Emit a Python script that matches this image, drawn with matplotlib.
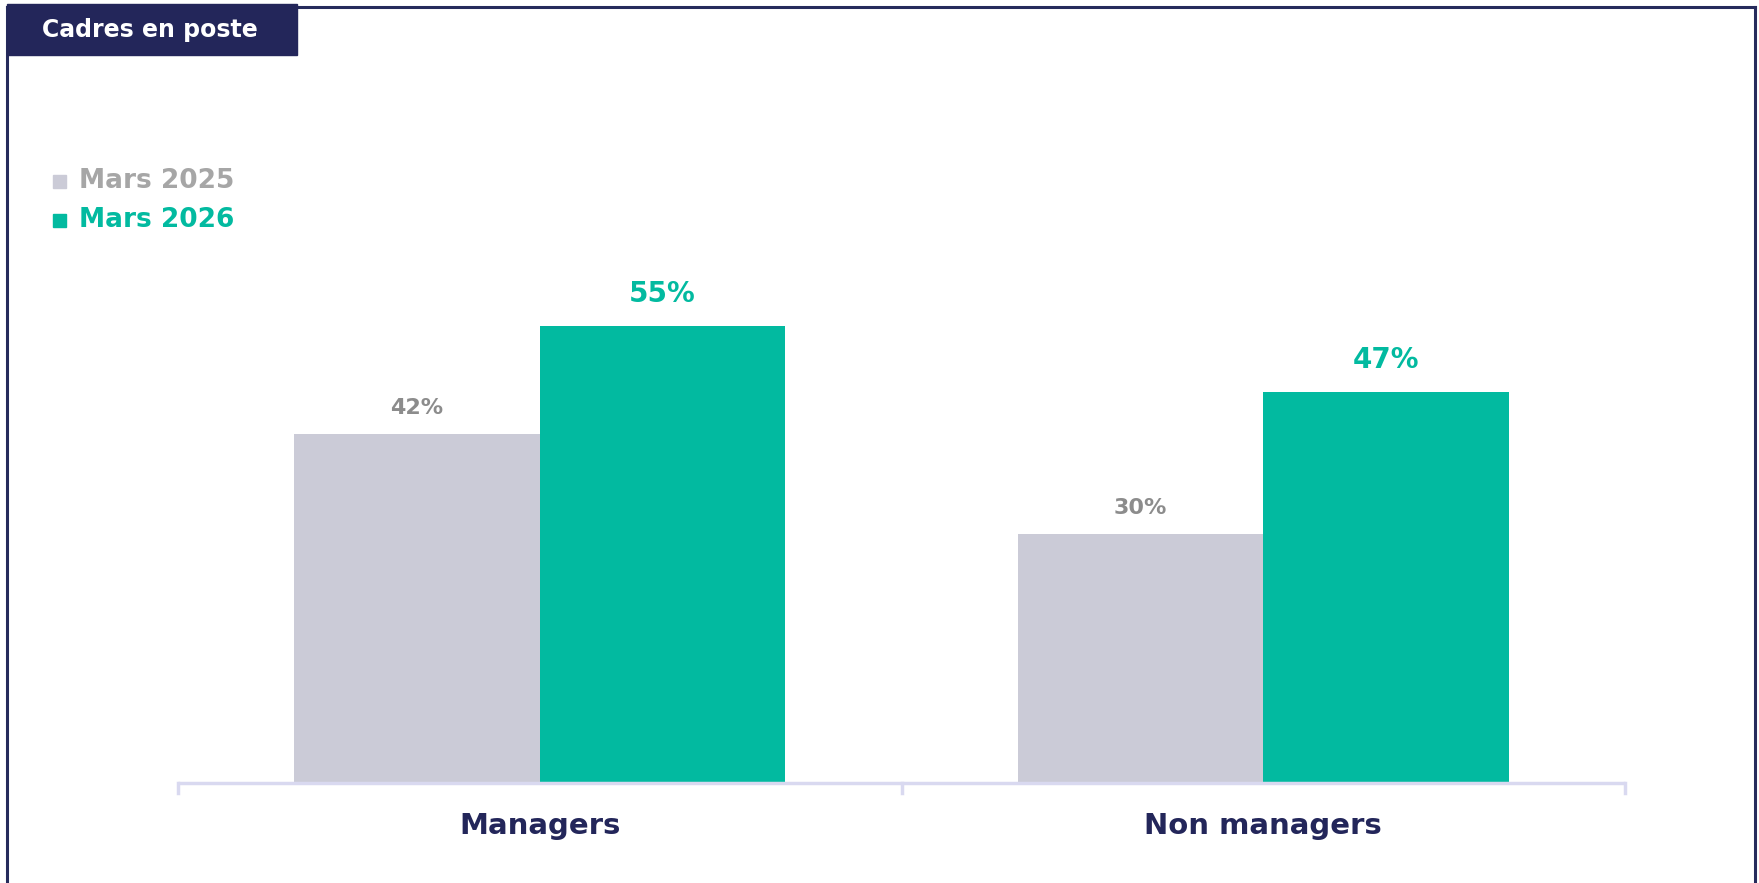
import matplotlib.pyplot as plt
import numpy as np
from matplotlib.patches import Rectangle
from matplotlib.lines import Line2D

categories = ['Managers', 'Non managers']
series_names = ['Mars 2025', 'Mars 2026']
mars_2025 = [42, 30]
mars_2026 = [55, 47]
title = 'Cadres en poste'

NAVY = '#23265A'
GREY_BAR = '#CBCBD7'
GREY_TXT = '#8C8C8C'
GREY_LEG = '#A6A6A6'
TEAL = '#02BAA0'

plt.rcParams['font.family'] = ['DejaVu Sans']

W, H = 1759, 883
fig = plt.figure(figsize=(W / 100, H / 100), dpi=100)

# frame around the chart (bottom edge runs off the picture)
fig.add_artist(Line2D([7 / W, 7 / W], [0, 1 - 7 / H], color='#262B5C', lw=2.2))
fig.add_artist(Line2D([7 / W, 1755 / W], [1 - 7 / H, 1 - 7 / H], color='#262B5C', lw=2.2))
fig.add_artist(Line2D([1755 / W, 1755 / W], [0, 1 - 7 / H], color='#262B5C', lw=2.2))

# title box
fig.add_artist(Rectangle((7 / W, 1 - 55 / H), 290 / W, 51 / H, color=NAVY, zorder=5))
fig.text(150 / W, 1 - 30 / H, title, color='white', fontsize=17, fontweight='bold',
         ha='center', va='center', zorder=6)

# legend
legend_y = [181, 220]
for name, col, tc, y in zip(series_names, [GREY_BAR, TEAL], [GREY_LEG, TEAL], legend_y):
    fig.add_artist(Rectangle((53 / W, 1 - (y + 7) / H), 13 / W, 13 / H, color=col))
    fig.text(79 / W, 1 - y / H, name, color=tc, fontsize=19, fontweight='bold',
             ha='left', va='center')

# axes
ymax = 60
left, right = 178, 1625
base = 783
top = base - ymax * 8.31
ax = fig.add_axes([left / W, (H - base) / H, (right - left) / W, (base - top) / H])
ax.set_xlim(0, 2)
ax.set_ylim(0, ymax)
ax.axis('off')

x = np.arange(len(categories)) + 0.5
bw = 0.339
b1 = ax.bar(x - bw / 2, mars_2025, bw, color=GREY_BAR)
b2 = ax.bar(x + bw / 2, mars_2026, bw, color=TEAL)

for rect, v in zip(b1, mars_2025):
    ax.annotate(f'{v}%', (rect.get_x() + rect.get_width() / 2, v), xytext=(0, 16),
                textcoords='offset pixels', ha='center', va='bottom',
                color=GREY_TXT, fontsize=16, fontweight='bold')
for rect, v in zip(b2, mars_2026):
    ax.annotate(f'{v}%', (rect.get_x() + rect.get_width() / 2, v), xytext=(0, 18),
                textcoords='offset pixels', ha='center', va='bottom',
                color=TEAL, fontsize=20, fontweight='bold')

# baseline with ticks
axis_col = '#D9D9F0'
ax.plot([0, 2], [0, 0], color=axis_col, lw=2.5, clip_on=False, solid_capstyle='butt')
for xt in [0, 1, 2]:
    ax.plot([xt, xt], [0, -10 / 8.31], color=axis_col, lw=2.5, clip_on=False)

for xc, cat in zip(x, categories):
    ax.text(xc, -43 / 8.31, cat, ha='center', va='center', color=NAVY,
            fontsize=21, fontweight='bold')

fig.savefig('out.png', dpi=100, facecolor='white')
